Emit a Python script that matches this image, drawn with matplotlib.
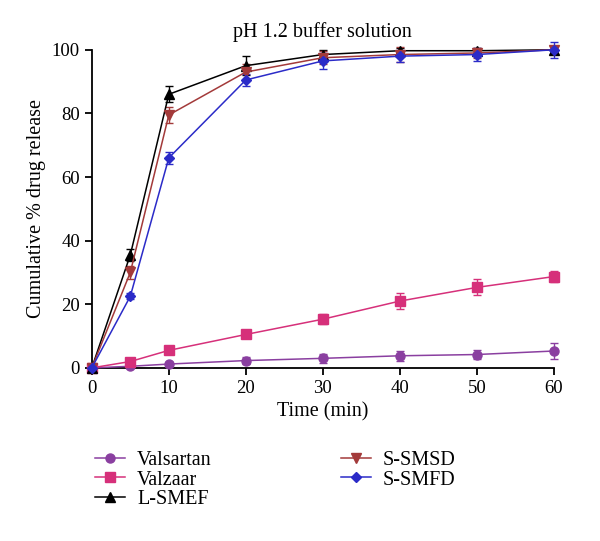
import numpy as np
import matplotlib.pyplot as plt
from matplotlib.lines import Line2D

plt.rcParams['font.family'] = ['Liberation Serif', 'DejaVu Serif']

time = [0, 5, 10, 20, 30, 40, 50, 60]
valsartan = [0, 0.5, 1.2, 2.3, 3.0, 3.8, 4.2, 5.3]
valsartan_err = [0.3, 0.5, 0.5, 1.0, 1.5, 1.5, 1.5, 2.5]
valzaar = [0, 2.0, 5.5, 10.5, 15.3, 21.0, 25.3, 28.7]
valzaar_err = [0.3, 0.5, 0.8, 1.0, 1.5, 2.5, 2.5, 1.8]
lsmef = [0, 35.5, 86.0, 95.0, 98.5, 99.7, 99.7, 100.0]
lsmef_err = [0.5, 2.0, 2.5, 3.0, 1.5, 1.0, 1.0, 1.0]
ssmsd = [0, 30.0, 79.5, 93.0, 97.5, 98.5, 99.0, 100.0]
ssmsd_err = [0.5, 2.0, 2.5, 2.5, 2.0, 2.5, 1.5, 1.0]
ssmfd = [0, 22.5, 66.0, 90.5, 96.5, 98.0, 98.5, 100.0]
ssmfd_err = [0.5, 1.0, 2.0, 2.0, 2.5, 2.0, 2.0, 2.5]

series = [
    ('Valsartan', valsartan, valsartan_err, '#8a3fa0', 'o'),
    ('Valzaar', valzaar, valzaar_err, '#d6307a', 's'),
    ('L-SMEF', lsmef, lsmef_err, '#000000', '^'),
    ('S-SMSD', ssmsd, ssmsd_err, '#a33a3a', 'v'),
    ('S-SMFD', ssmfd, ssmfd_err, '#2b2bc8', 'D'),
]

fig = plt.figure(figsize=(6, 5.41), dpi=100)
ax = fig.add_axes([0.153, 0.32, 0.77, 0.588])

handles = []
for name, y, err, c, m in series:
    ms = 6.5 if m != 'D' else 5.5
    ax.errorbar(time, y, yerr=err, color=c, marker=m, markersize=ms, lw=1.1,
                capsize=3, elinewidth=1, capthick=1, clip_on=False, zorder=3)
    handles.append(Line2D([], [], color=c, marker=m, markersize=ms, lw=1.1, label=name))

ax.set_xlim(0, 60)
ax.set_ylim(0, 100)
ax.set_xticks(np.arange(0, 61, 10))
ax.set_yticks(np.arange(0, 101, 20))
ax.spines['top'].set_visible(False)
ax.spines['right'].set_visible(False)
ax.spines['left'].set_linewidth(1.3)
ax.spines['bottom'].set_linewidth(1.3)
ax.tick_params(direction='out', length=5, width=1.3, labelsize=13.5)
ax.set_xlabel('Time (min)', fontsize=14.5, labelpad=4)
ax.set_ylabel('Cumulative % drug release', fontsize=14.5, labelpad=4)
ax.set_title('pH 1.2 buffer solution', fontsize=14.5, pad=9)

fig.legend(handles=handles, ncol=2, loc='upper left',
           bbox_to_anchor=(0.128, 0.2), frameon=False, fontsize=14.5,
           handlelength=1.5, columnspacing=6.4, labelspacing=0.02, handletextpad=0.6)

fig.savefig('out.png', dpi=100)
